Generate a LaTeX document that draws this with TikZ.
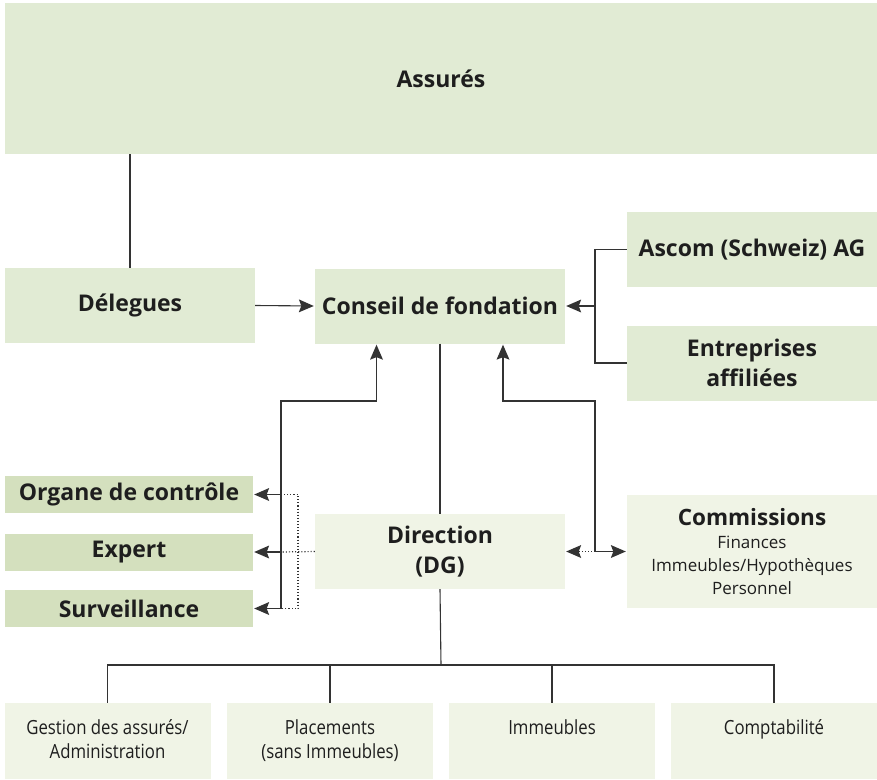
\documentclass[tikz,border=0pt]{standalone}
\usepackage{fontspec}
\setmainfont{Open Sans}
\newfontfamily\condfont[FakeStretch=0.86]{Open Sans}
\usepackage{tikz}
\usetikzlibrary{arrows.meta,positioning,calc}
\definecolor{boxgreen}{HTML}{E1EBD4}
\definecolor{ctrlgreen}{HTML}{D4E0BE}
\definecolor{palegreen}{HTML}{F0F4E6}
\definecolor{linegray}{HTML}{333333}
\definecolor{textgray}{HTML}{1E1E1E}

\tikzset{
  organ/.style={fill=boxgreen, text=textgray, align=center, inner sep=0pt,
    font=\bfseries\fontsize{23}{30}\selectfont, minimum width=250pt, minimum height=75pt},
  ctrl/.style={organ, fill=ctrlgreen, minimum width=248pt, minimum height=37pt},
  pale/.style={organ, fill=palegreen},
  dept/.style={fill=palegreen, inner sep=0pt, minimum width=206pt, minimum height=76pt},
  deptlabel/.style={anchor=north, yshift=-17pt, inner sep=0pt, align=center, text=textgray,
    font=\condfont\fontsize{19.5}{24}\selectfont},
  link/.style={draw=linegray, line width=1.1pt},
  arrowtip/.style={-{Stealth[length=15pt,width=13pt,inset=2.5pt,line width=0pt]}, shorten >=1pt},
  dots/.style={link, dotted, line width=1.2pt}
}

\begin{document}
\begin{tikzpicture}[x=1pt,y=-1pt]
  \useasboundingbox (0,0) rectangle (877,779);

  % upper level
  \node[organ, minimum width=872pt, minimum height=151pt] (ass) at (441,78.5) {Assurés};
  \node[organ] (del) at (130,305.5) {Délegues};
  \node[organ] (con) at (440,306) {Conseil de fondation};
  \node[organ] (asc) at (752,249.5) {Ascom (Schweiz) AG};
  \node[organ] (ent) at (752,363) {Entreprises\\affiliées};

  % middle level
  \node[ctrl] (org) at (129,494.5) {Organe de contrôle};
  \node[ctrl] (exp) at (129,552) {Expert};
  \node[ctrl] (sur) at (129,608.5) {Surveillance};
  \node[pale] (dir) at (440,551.5) {Direction\\(DG)};
  \node[pale, minimum height=113pt, font=\mdseries\fontsize{17}{23}\selectfont] (com) at (752,551.5)
    {{\bfseries\fontsize{22.5}{24}\selectfont Commissions}\\Finances\\Immeubles/Hypothèques\\Personnel};

  % departments
  \node[dept, label={[deptlabel]north:Gestion des assurés/\\Administration}] (gest) at (107.5,741) {};
  \node[dept, label={[deptlabel]north:Placements\\(sans Immeubles)}] (plac) at (330,741) {};
  \node[dept, label={[deptlabel]north:Immeubles}] (imm) at (552,741) {};
  \node[dept, label={[deptlabel]north:Comptabilité}] (compt) at (774,741) {};

  % helper points
  \coordinate (brk) at (595,306);
  \coordinate (lk) at (281,401);
  \coordinate (lup) at (376.5,401);
  \coordinate (ldot) at (298,401);
  \coordinate (rk) at (595,401);
  \coordinate (rup) at (503,401);
  \coordinate (bus) at (441,665);

  % connectors
  \draw[link] (del.north) -- (del.north |- ass.south);
  \draw[link, arrowtip] (del.east) -- (con.west);
  \draw[link] (asc.west) -- (asc.west -| brk) -- (ent.west -| brk) -- (ent.west);
  \draw[link, arrowtip] (brk) -- (con.east);
  \draw[link] (con.south) -- (dir.north);

  \draw[link, arrowtip] (lk |- sur) -- (lk) -- (lup) -- (lup |- con.south);
  \draw[link, arrowtip] (lk |- org) -- (org.east);
  \draw[link, arrowtip] (lk |- exp) -- (exp.east);
  \draw[link, arrowtip] (lk |- sur) -- (sur.east);
  \draw[dots] (lk |- org) -- (ldot |- org) -- (ldot |- sur) -- (lk |- sur);
  \draw[dots] (dir.west) -- (lk |- exp);

  \draw[link, arrowtip] (rk |- com) -- (rk) -- (rup) -- (rup |- con.south);
  \draw[link, arrowtip] (rk |- com) -- (com.west);
  \draw[dots, arrowtip] (rk |- com) -- (dir.east);

  \draw[link] (dir.south) -- (bus);
  \draw[link] (gest.north) -- (gest.north |- bus) -- (compt.north |- bus) -- (compt.north);
  \draw[link] (plac.north) -- (plac.north |- bus);
  \draw[link] (imm.north) -- (imm.north |- bus);
\end{tikzpicture}
\end{document}
